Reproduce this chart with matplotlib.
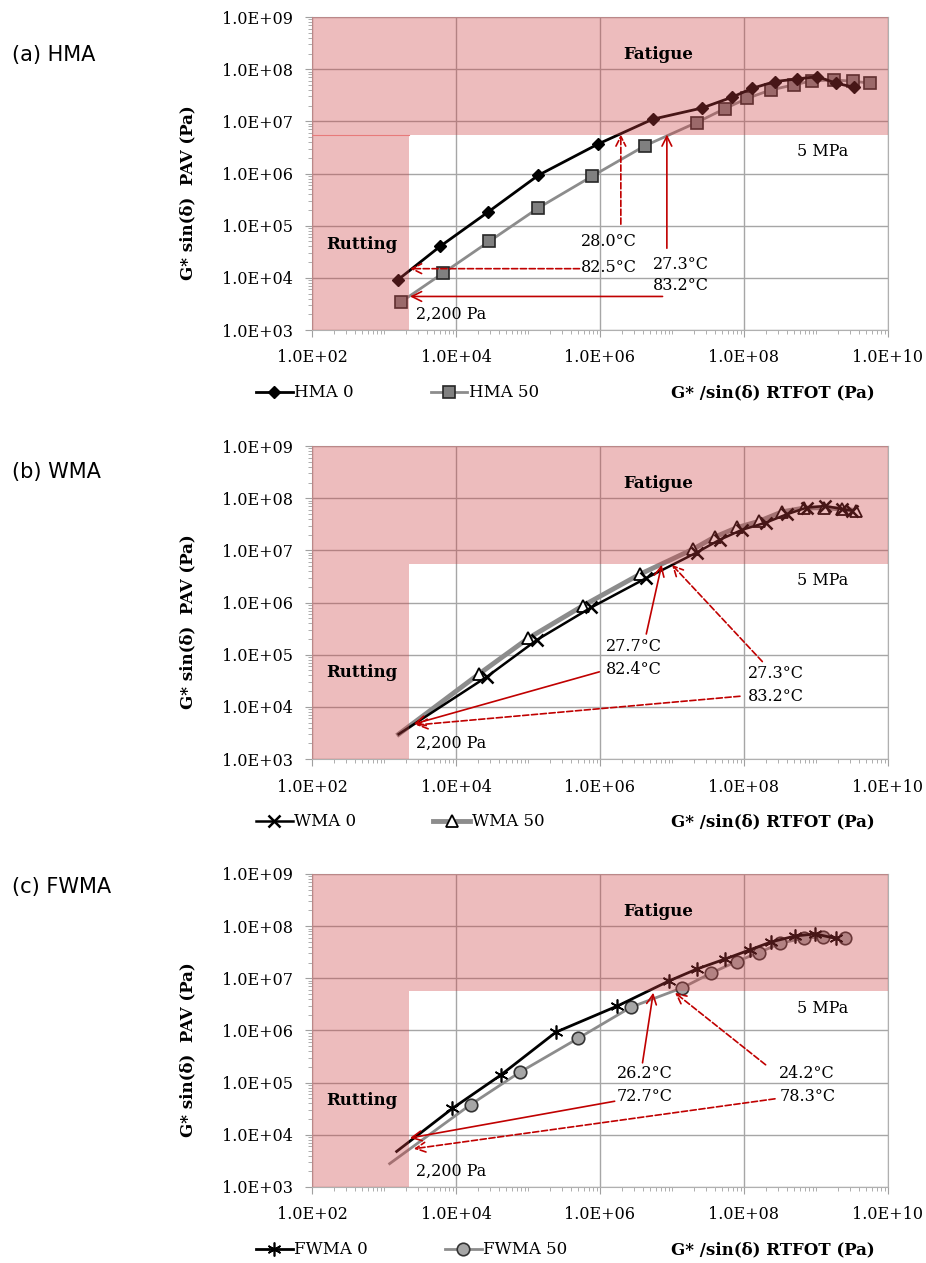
import matplotlib
matplotlib.use('Agg')
import matplotlib.pyplot as plt
import numpy as np
from matplotlib.ticker import FixedLocator, LogLocator, FuncFormatter, NullFormatter

# HMA (panel a)
hma0_x = [1.55e3, 6.0e3, 2.75e4, 1.4e5, 9.5e5, 5.4e6, 2.6e7, 6.8e7, 1.3e8, 2.7e8, 5.4e8, 1.05e9, 1.9e9, 3.4e9]
hma0_y = [9.1e3, 4.0e4, 1.8e5, 9.3e5, 3.7e6, 1.1e7, 1.8e7, 2.9e7, 4.3e7, 5.8e7, 6.5e7, 7.2e7, 5.4e7, 4.5e7]
hma50_x = [1.75e3, 6.6e3, 2.9e4, 1.4e5, 7.8e5, 4.2e6, 2.2e7, 5.4e7, 1.1e8, 2.35e8, 4.9e8, 8.9e8, 1.8e9, 3.3e9, 5.6e9]
hma50_y = [3.5e3, 1.23e4, 5.0e4, 2.2e5, 8.9e5, 3.4e6, 9.5e6, 1.75e7, 2.75e7, 4.0e7, 5.0e7, 6.0e7, 6.2e7, 5.9e7, 5.4e7]

# WMA (panel b) - first point is where the line starts, no marker drawn
wma0_x = [1.6e3, 2.7e4, 1.35e5, 7.6e5, 4.4e6, 2.2e7, 4.6e7, 9.5e7, 2.0e8, 3.9e8, 7.4e8, 1.35e9, 2.3e9, 3.2e9]
wma0_y = [3.0e3, 3.8e4, 1.95e5, 8.1e5, 2.95e6, 9.1e6, 1.6e7, 2.5e7, 3.4e7, 4.9e7, 6.6e7, 7.1e7, 6.2e7, 5.8e7]
wma50_x = [1.6e3, 2.1e4, 1.0e5, 5.8e5, 3.6e6, 1.95e7, 3.9e7, 8.1e7, 1.6e8, 3.4e8, 6.9e8, 1.3e9, 2.3e9, 3.6e9]
wma50_y = [3.0e3, 4.3e4, 2.05e5, 8.7e5, 3.5e6, 1.05e7, 1.8e7, 2.75e7, 3.6e7, 5.5e7, 6.5e7, 6.6e7, 6.2e7, 5.8e7]

# FWMA (panel c)
fwma0_x = [1.5e3, 8.9e3, 4.2e4, 2.45e5, 1.75e6, 9.1e6, 2.2e7, 5.5e7, 1.2e8, 2.4e8, 5.2e8, 9.8e8, 1.9e9]
fwma0_y = [4.8e3, 3.2e4, 1.4e5, 9.3e5, 2.95e6, 8.9e6, 1.5e7, 2.35e7, 3.5e7, 5.0e7, 6.5e7, 7.1e7, 5.8e7]
fwma50_x = [1.2e3, 1.6e4, 7.8e4, 5.0e5, 2.7e6, 1.4e7, 3.5e7, 7.9e7, 1.6e8, 3.2e8, 6.8e8, 1.26e9, 2.5e9]
fwma50_y = [2.8e3, 3.8e4, 1.6e5, 7.1e5, 2.8e6, 6.6e6, 1.26e7, 2.1e7, 3.1e7, 4.7e7, 5.9e7, 6.2e7, 6.0e7]

fatigue_limit = 5.6e6
rutting_limit = 2.2e3

# temperature labels: (text, x, y)
temps_a = [('28.0°C', 5.5e5, 4.9e4), ('82.5°C', 5.5e5, 1.55e4), ('27.3°C', 5.5e6, 1.78e4), ('83.2°C', 5.5e6, 7.1e3)]
temps_b = [('27.7°C', 1.2e6, 1.45e5), ('82.4°C', 1.2e6, 5.2e4), ('27.3°C', 1.15e8, 4.4e4), ('83.2°C', 1.15e8, 1.6e4)]
temps_c = [('26.2°C', 1.7e6, 1.5e5), ('72.7°C', 1.7e6, 5.5e4), ('24.2°C', 3.1e8, 1.5e5), ('78.3°C', 3.1e8, 5.5e4)]

# arrows: (tip, tail, dashed)
arrows_a = [((2.3e3, 1.5e4), (5.2e5, 1.5e4), True), ((2.3e3, 4.4e3), (7.4e6, 4.4e3), False),
            ((1.95e6, 5.6e6), (1.95e6, 1.07e5), True), ((8.5e6, 5.6e6), (8.5e6, 3.7e4), False)]
arrows_b = [((2.6e3, 4.7e3), (9.8e5, 4.7e4), False), ((2.8e3, 4.5e3), (8.8e7, 1.6e4), True),
            ((7.2e6, 5.3e6), (4.4e6, 2.5e5), False), ((1.0e7, 5.3e6), (1.8e8, 7.4e4), True)]
arrows_c = [((2.3e3, 8.7e3), (1.6e6, 4.4e4), False), ((2.6e3, 5.4e3), (2.7e8, 4.9e4), True),
            ((5.5e6, 5.3e6), (3.9e6, 2.4e5), False), ((1.1e7, 5.3e6), (2.0e8, 2.2e5), True)]

SERIF = 'DejaVu Serif'
RED = '#c00000'
plt.rcParams['font.family'] = SERIF


def draw_panel(ax, s0, s50, temps, arrows, rut_y):
    ax.set_xscale('log')
    ax.set_yscale('log')
    ax.set_xlim(1e2, 1e10)
    ax.set_ylim(1e3, 1e9)

    x0, y0, lab0, st0 = s0
    x50, y50, lab50, st50 = s50
    l50, = ax.plot(x50, y50, label=lab50, zorder=3, **st50)
    l0, = ax.plot(x0, y0, label=lab0, zorder=4, **st0)

    # failure zones drawn over the data, like the original
    ax.fill_between([1e2, 1e10], fatigue_limit, 1e9, color='#ce4042', alpha=0.35, lw=0, zorder=5)
    ax.fill_between([1e2, rutting_limit], 1e3, fatigue_limit, color='#ce4042', alpha=0.35, lw=0, zorder=5)

    ax.set_xticks([1e2, 1e4, 1e6, 1e8, 1e10])
    ax.xaxis.set_minor_locator(LogLocator(base=10, subs=np.arange(1, 10), numticks=30))
    ax.yaxis.set_major_locator(FixedLocator([10.0 ** k for k in range(3, 10)]))
    ax.yaxis.set_minor_locator(LogLocator(base=10, subs=np.arange(2, 10), numticks=30))
    fmt = FuncFormatter(lambda v, p: '%.1E' % v)
    ax.xaxis.set_major_formatter(fmt)
    ax.yaxis.set_major_formatter(fmt)
    ax.xaxis.set_minor_formatter(NullFormatter())
    ax.yaxis.set_minor_formatter(NullFormatter())
    ax.tick_params(which='major', length=5, color='#a0a0a0', labelsize=11.5, pad=9)
    ax.tick_params(which='minor', length=3, color='#a0a0a0')
    ax.grid(True, which='major', color='#a6a6a6', lw=1.0, zorder=1)
    for sp in ax.spines.values():
        sp.set_color('#b0b0b0')
    ax.set_axisbelow(True)

    ax.text(6.5e6, 1.9e8, 'Fatigue', ha='center', va='center', fontsize=12, fontweight='bold', zorder=7)
    ax.text(4.9e2, rut_y, 'Rutting', ha='center', va='center', fontsize=12, fontweight='bold', zorder=7)
    ax.text(1.23e9, 2.6e6, '5 MPa', ha='center', va='center', fontsize=11.5, zorder=7)
    ax.text(2.75e3, 2.0e3, '2,200 Pa', ha='left', va='center', fontsize=11.5, zorder=7)
    for t, tx, ty in temps:
        ax.text(tx, ty, t, ha='left', va='center', fontsize=11.5, zorder=7)
    for tip, tail, dashed in arrows:
        ax.annotate('', xy=tip, xytext=tail, zorder=8,
                    arrowprops=dict(arrowstyle='->,head_length=0.7,head_width=0.35', color=RED, lw=1.2,
                                    linestyle='--' if dashed else '-', shrinkA=0, shrinkB=0))

    ax.set_ylabel('G* sin(δ)  PAV (Pa)', fontsize=12, fontweight='bold')
    ax.yaxis.set_label_coords(-0.2, 0.44)
    ax.text(0.977, -0.201, 'G* /sin(δ) RTFOT (Pa)', transform=ax.transAxes, ha='right', va='center',
            fontsize=12, fontweight='bold')
    ax.legend(handles=[l0, l50], loc='center left', bbox_to_anchor=(-0.097, -0.201), ncol=2, frameon=False,
              handlelength=2.2, handletextpad=0.1, columnspacing=4.6, borderaxespad=0, borderpad=0,
              fontsize=12)


fig = plt.figure(figsize=(9.26, 12.63), dpi=100)
left, width, height = 0.3369, 0.622, 0.2478
ax_a = fig.add_axes([left, 0.7387, width, height])
ax_b = fig.add_axes([left, 0.3990, width, height])
ax_c = fig.add_axes([left, 0.0602, width, height])

draw_panel(ax_a,
           (hma0_x, hma0_y, 'HMA 0', dict(color='black', lw=2, marker='D', ms=6, mfc='black', mec='black')),
           (hma50_x, hma50_y, 'HMA 50', dict(color='#8c8c8c', lw=2, marker='s', ms=8, mfc='#808080', mec='#262626', mew=1.2)),
           temps_a, arrows_a, 4.3e4)
ax_a.plot([1e2, rutting_limit], [fatigue_limit, fatigue_limit], color='#e87a7a', lw=0.8, zorder=6)

draw_panel(ax_b,
           (wma0_x, wma0_y, 'WMA 0', dict(color='black', lw=1.8, marker='x', ms=8, mew=1.8, mec='black', markevery=slice(1, None))),
           (wma50_x, wma50_y, 'WMA 50', dict(color='#8c8c8c', lw=3.5, marker='^', ms=9, mfc='white', mec='black', mew=1.3, markevery=slice(1, None))),
           temps_b, arrows_b, 4.6e4)

draw_panel(ax_c,
           (fwma0_x, fwma0_y, 'FWMA 0', dict(color='black', lw=2, marker=(6, 2, 0), ms=10, mew=1.2, mec='black', markevery=slice(1, None))),
           (fwma50_x, fwma50_y, 'FWMA 50', dict(color='#8c8c8c', lw=2, marker='o', ms=9, mfc='#a6a6a6', mec='#333333', mew=1.2, markevery=slice(1, None))),
           temps_c, arrows_c, 4.6e4)

fig.text(0.013, 1 - 55 / 1263, '(a) HMA', fontsize=15, family='DejaVu Sans', va='center')
fig.text(0.013, 1 - 472 / 1263, '(b) WMA', fontsize=15, family='DejaVu Sans', va='center')
fig.text(0.013, 1 - 887 / 1263, '(c) FWMA', fontsize=15, family='DejaVu Sans', va='center')

fig.savefig('out.png', dpi=100)
